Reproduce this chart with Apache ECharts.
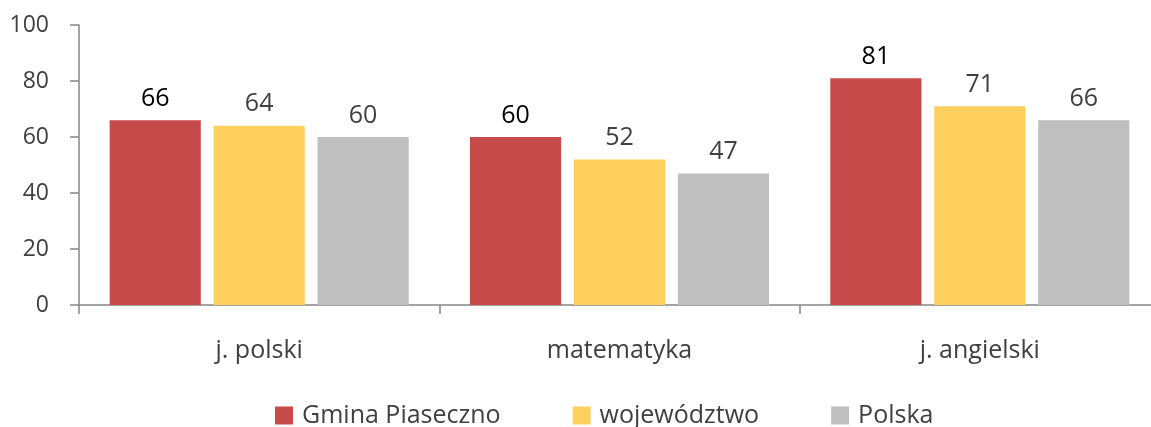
<!DOCTYPE html>
<html>
<head>
<meta charset="utf-8">
<script src="https://cdn.jsdelivr.net/npm/echarts@6/dist/echarts.min.js"></script>
<style>
  html, body { margin: 0; padding: 0; background: #fff; overflow: hidden; }
  #chart { width: 1160px; height: 427px; }
</style>
</head>
<body>
<div id="chart"></div>
<script>
  // dane
  var categories = ['j. polski', 'matematyka', 'j. angielski'];
  var gmina = [66, 60, 81];
  var wojewodztwo = [64, 52, 71];
  var polska = [60, 47, 66];
  var yTicks = [0, 20, 40, 60, 80, 100];

  var font = '"Open Sans", "Noto Sans", sans-serif';
  var myChart = echarts.init(document.getElementById('chart'));

  function barSeries(name, data, color, labelColor) {
    return {
      name: name,
      type: 'bar',
      data: data,
      barGap: '14%',
      barCategoryGap: '17%',
      itemStyle: { color: color },
      label: {
        show: true,
        position: 'top',
        distance: 9,
        color: labelColor,
        fontFamily: font,
        fontSize: 25
      }
    };
  }

  var option = {
    animation: false,
    textStyle: { fontFamily: font },
    grid: { left: 79, right: 0, top: 25, bottom: 122, containLabel: false },
    legend: {
      top: 398,
      left: 270,
      itemWidth: 18,
      itemHeight: 18,
      itemGap: 72,
      icon: 'rect',
      textStyle: { color: '#404040', fontSize: 25, fontFamily: font, padding: [0, 0, 0, 4] },
      data: ['Gmina Piaseczno', 'województwo', 'Polska']
    },
    xAxis: {
      type: 'category',
      data: categories,
      axisLine: { lineStyle: { color: '#868686', width: 1.5 } },
      axisTick: { show: true, length: 9, lineStyle: { color: '#868686', width: 1.5 } },
      axisLabel: { color: '#404040', fontSize: 25, margin: 33, fontFamily: font }
    },
    yAxis: {
      type: 'value',
      min: yTicks[0],
      max: yTicks[yTicks.length - 1],
      interval: 20,
      splitLine: { show: false },
      axisLine: { show: true, lineStyle: { color: '#868686', width: 1.5 } },
      axisTick: { show: true, length: 9, lineStyle: { color: '#868686', width: 1.5 } },
      axisLabel: { color: '#404040', fontSize: 23, margin: 30, fontFamily: font }
    },
    series: [
      barSeries('Gmina Piaseczno', gmina, '#C64B4A', '#000000'),
      barSeries('województwo', wojewodztwo, '#FFD05D', '#404040'),
      barSeries('Polska', polska, '#BFBFBF', '#404040')
    ]
  };
  myChart.setOption(option);
</script>
</body>
</html>
